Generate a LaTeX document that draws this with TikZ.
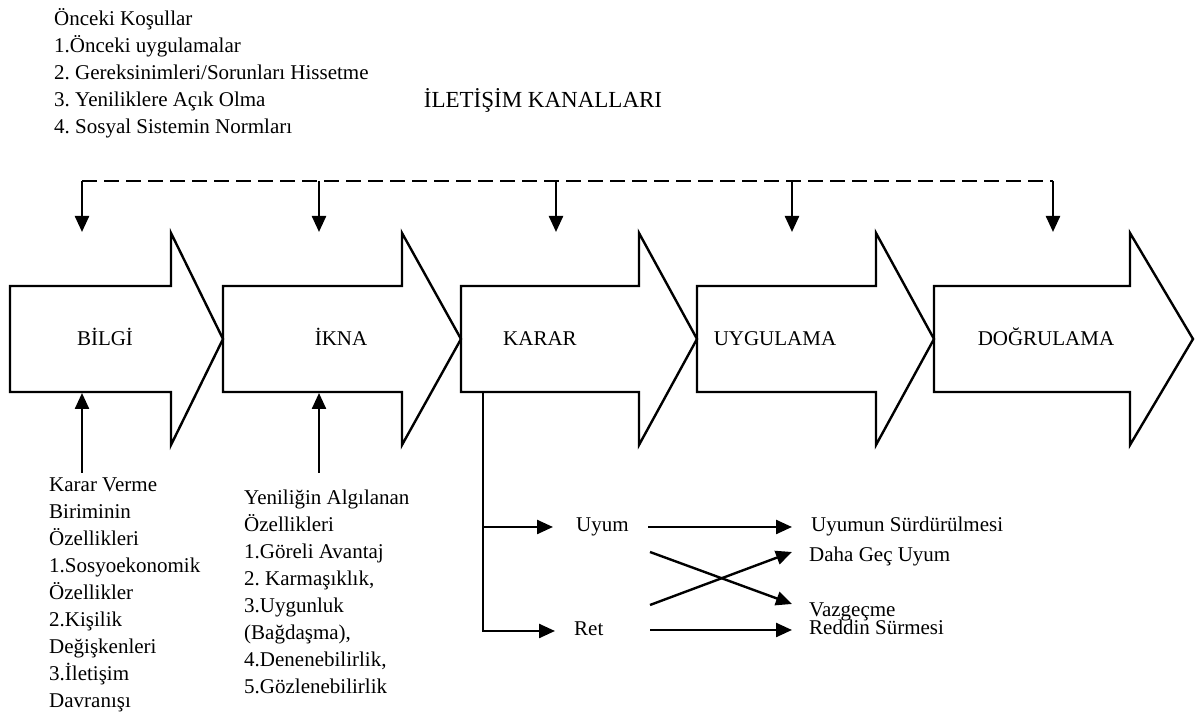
\documentclass[tikz,border=0pt]{standalone}
\usepackage{fontspec}
\setmainfont{Liberation Serif}
\usetikzlibrary{arrows.meta}
\frenchspacing

\begin{document}
\begin{tikzpicture}[x=0.5pt, y=-0.5pt, line width=1.2pt,
  txt/.style={inner sep=0pt, font=\fontsize{10.5}{13.5}\selectfont},
  blk/.style={txt, align=left, anchor=north west},
  lbl/.style={txt, anchor=west, text height=0.7em, text depth=0.22em},
  stage/.style={txt, text height=0.7em, text depth=0.22em},
  arr/.style={-{Triangle[length=8pt,width=7pt]}},
  dashline/.style={dash pattern=on 7.5pt off 3.5pt}]
\useasboundingbox (0,0) rectangle (1196,715);
% big stage arrows
\draw[] (10,286) -- (171,286) -- (171,233) -- (223,339) -- (171,445) -- (171,392) -- (10,392) -- cycle;
\draw[] (223,286) -- (402,286) -- (402,233) -- (461,339) -- (402,445) -- (402,392) -- (223,392) -- cycle;
\draw[] (461,286) -- (639,286) -- (639,233) -- (697,339) -- (639,445) -- (639,392) -- (461,392) -- cycle;
\draw[] (697,286) -- (876,286) -- (876,233) -- (934,339) -- (876,445) -- (876,392) -- (697,392) -- cycle;
\draw[] (934,286) -- (1130,286) -- (1130,233) -- (1193,339) -- (1130,445) -- (1130,392) -- (934,392) -- cycle;
\node[stage] (bilgi) at (105,341){BİLGİ};
\node[stage] (ikna) at (341,341){İKNA};
\node[stage] (karar) at (540,341){KARAR};
\node[stage] (uygulama) at (775,341){UYGULAMA};
\node[stage] (dogrulama) at (1046,341){DOĞRULAMA};
% texts
\node[blk] (onkosul) at (53,7){Önceki Koşullar\\1.Önceki uygulamalar\\2. Gereksinimleri/Sorunları Hissetme\\3. Yeniliklere Açık Olma\\4. Sosyal Sistemin Normları};
\node[txt, font=\fontsize{11.5}{14}\selectfont] (kanal) at (543,100){İLETİŞİM KANALLARI};
\node[blk] (birim) at (48,477){Karar Verme\\Biriminin\\Özellikleri\\1.Sosyoekonomik\\Özellikler\\2.Kişilik\\Değişkenleri\\3.İletişim\\Davranışı};
\node[blk] (yenilik) at (243,489){Yeniliğin Algılanan\\Özellikleri\\1.Göreli Avantaj\\2. Karmaşıklık,\\3.Uygunluk\\(Bağdaşma),\\4.Denenebilirlik,\\5.Gözlenebilirlik};
\node[lbl] (uyum) at (575,527){Uyum};
\node[lbl] (ret) at (573,631){Ret};
\node[lbl] (surdur) at (810,527){Uyumun Sürdürülmesi};
\node[lbl] (gecuyum) at (808,557){Daha Geç Uyum};
\node[lbl] (vazgec) at (808,612){Vazgeçme};
\node[lbl] (reddin) at (808,630){Reddin Sürmesi};
% channels
\coordinate (d1) at (82,181);
\coordinate (d2) at (319,181);
\coordinate (d3) at (556,181);
\coordinate (d4) at (792,181);
\coordinate (d5) at (1053,181);
\draw[dashline] (d1) -- (d5);
\draw[arr] (d1) -- (d1 |- 0,232);
\draw[arr] (d2) -- (d2 |- 0,232);
\draw[arr] (d3) -- (d3 |- 0,232);
\draw[arr] (d4) -- (d4 |- 0,232);
\draw[arr] (d5) -- (d5 |- 0,232);
% inputs from below
\coordinate (b1) at (82,393);
\coordinate (b2) at (319,393);
\coordinate (b3) at (483,392);
\draw[arr, shorten <=2pt] (birim.north -| b1) -- (b1);
\draw[arr, shorten <=8pt] (yenilik.north -| b2) -- (b2);
% decision
\draw[arr, shorten >=11pt] (b3 |- uyum.west) -- (uyum.west);
\draw[arr, shorten >=9pt] (b3) |- (ret.west);
\coordinate (u0) at (648,527);
\coordinate (c1) at (650,552);
\coordinate (c2) at (650,605);
\coordinate (r0) at (650,630);
\coordinate (e1) at (792,604);
\coordinate (e2) at (792,552);
\draw[arr, shorten >=9pt] (u0) -- (surdur.west);
\draw[arr] (c1) -- (e1);
\draw[arr] (c2) -- (e2);
\draw[arr, shorten >=8pt] (r0) -- (reddin.west);
\end{tikzpicture}
\end{document}
